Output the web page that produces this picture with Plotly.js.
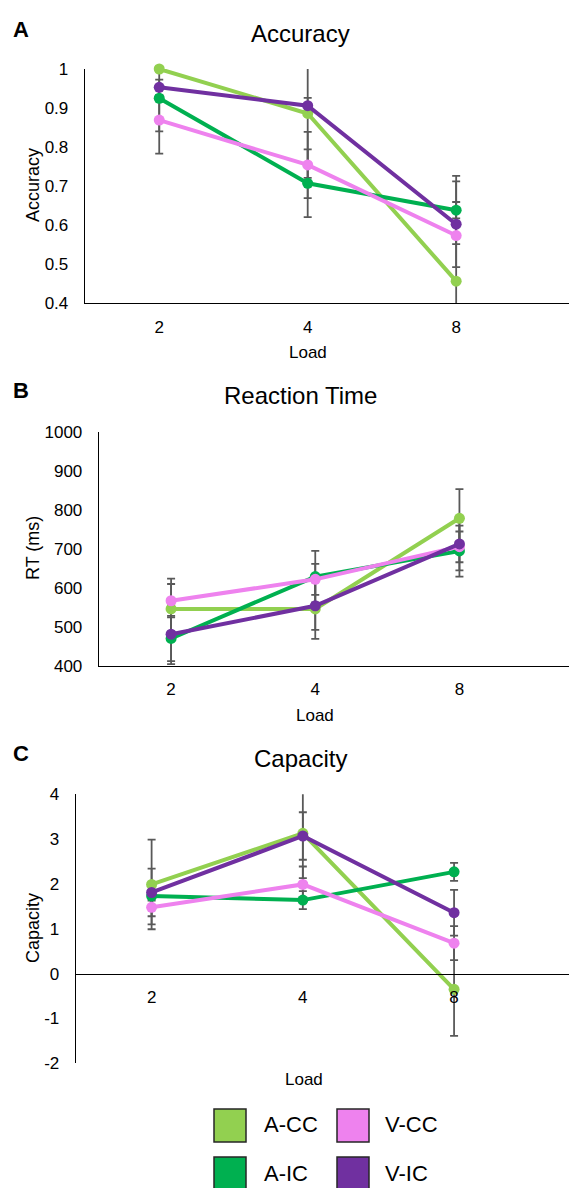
<!DOCTYPE html>
<html>
<head>
<meta charset="utf-8">
<script src="https://cdn.plot.ly/plotly-3.0.1.min.js"></script>
<style>html,body{margin:0;padding:0;background:#fff}#chart{width:569px;height:1188px}</style>
</head>
<body>
<div id="chart"></div>
<script>
// ---------- data ----------
const loads = ['2', '4', '8'];
const seriesNames = ['A-CC', 'A-IC', 'V-CC', 'V-IC'];
const seriesColors = ['#92D050', '#00B050', '#EE82EE', '#7030A0'];

// Accuracy
const accACC = [1.0, 0.886, 0.456];
const accAIC = [0.925, 0.707, 0.638];
const accVCC = [0.869, 0.754, 0.573];
const accVIC = [0.953, 0.906, 0.602];
const accErrACC = [0.0, 0.165, 0.27];
const accErrAIC = [0.085, 0.087, 0.021];
const accErrVCC = [0.086, 0.085, 0.022];
const accErrVIC = [0.02, 0.02, 0.11];

// Reaction time (ms)
const rtACC = [546, 546, 779];
const rtAIC = [470, 629, 695];
const rtVCC = [567, 622, 706];
const rtVIC = [481, 554, 713];
const rtErrACC = [78, 77, 75];
const rtErrAIC = [58, 66, 50];
const rtErrVCC = [43, 40, 77];
const rtErrVIC = [77, 62, 47];

// Capacity
const capACC = [1.99, 3.13, -0.35];
const capAIC = [1.73, 1.64, 2.27];
const capVCC = [1.48, 1.99, 0.68];
const capVIC = [1.81, 3.07, 1.36];
const capErrACC = [1.0, 1.0, 1.04];
const capErrAIC = [0.1, 0.2, 0.2];
const capErrVCC = [0.38, 0.4, 0.38];
const capErrVIC = [0.53, 0.53, 0.51];

// tick labels
const accTicks = [0.4, 0.5, 0.6, 0.7, 0.8, 0.9, 1];
const accTickText = ['0.4', '0.5', '0.6', '0.7', '0.8', '0.9', '1'];
const rtTicks = [400, 500, 600, 700, 800, 900, 1000];
const rtTickText = ['400', '500', '600', '700', '800', '900', '1000'];
const capTicks = [-2, -1, 0, 1, 2, 3, 4];
const capTickText = ['-2', '-1', '0', '1', '2', '3', '4'];

// ---------- layout helpers ----------
const W = 569, H = 1188;
const FONT = 'Liberation Sans, Arial, sans-serif';
const px2y = p => 1 - p / H;
const px2x = p => p / W;

const panels = [
  {ax: '', vals: [accACC, accAIC, accVCC, accVIC], errs: [accErrACC, accErrAIC, accErrVCC, accErrVIC],
   range: [0.4, 1], ticks: accTicks, tickText: accTickText, left: 85, top: 69, bottom: 303,
   title: 'Accuracy', ytitle: 'Accuracy', letter: 'A', titleY: 33, letterY: 29, ytitleY: 185, loadY: 352},
  {ax: '2', vals: [rtACC, rtAIC, rtVCC, rtVIC], errs: [rtErrACC, rtErrAIC, rtErrVCC, rtErrVIC],
   range: [400, 1000], ticks: rtTicks, tickText: rtTickText, left: 99, top: 432.3, bottom: 665.7,
   title: 'Reaction Time', ytitle: 'RT (ms)', letter: 'B', titleY: 395, letterY: 390, ytitleY: 548, loadY: 715},
  {ax: '3', vals: [capACC, capAIC, capVCC, capVIC], errs: [capErrACC, capErrAIC, capErrVCC, capErrVIC],
   range: [-2, 4], ticks: capTicks, tickText: capTickText, left: 76, top: 794.3, bottom: 1063.3,
   title: 'Capacity', ytitle: 'Capacity', letter: 'C', titleY: 759, letterY: 753, ytitleY: 928, loadY: 1079}
];

const data = [];
const layout = {
  width: W, height: H,
  margin: {l: 0, r: 0, t: 0, b: 0},
  paper_bgcolor: '#fff', plot_bgcolor: 'rgba(0,0,0,0)',
  showlegend: false,
  font: {family: FONT, color: '#000', size: 17},
  annotations: [], shapes: []
};

panels.forEach((p, pi) => {
  const xa = 'x' + p.ax, ya = 'y' + p.ax;
  // error bars (behind), clipped to plot area
  p.vals.forEach((v, si) => {
    data.push({
      type: 'scatter', mode: 'markers', x: loads, y: v, xaxis: xa, yaxis: ya,
      marker: {size: 1, color: 'rgba(0,0,0,0)'}, cliponaxis: true, hoverinfo: 'skip', showlegend: false,
      error_y: {type: 'data', array: p.errs[si], symmetric: true, color: '#595959', thickness: 1.8, width: 4}
    });
  });
  // series lines + markers
  p.vals.forEach((v, si) => {
    data.push({
      type: 'scatter', mode: 'lines+markers', x: loads, y: v, xaxis: xa, yaxis: ya,
      name: seriesNames[si], cliponaxis: false,
      line: {color: seriesColors[si], width: 4},
      marker: {color: seriesColors[si], size: 11}
    });
  });
  const yDom = [px2y(p.bottom), px2y(p.top)];
  const xDom = [px2x(p.left), 1];
  const isCap = pi === 2;
  layout['yaxis' + p.ax] = {
    domain: yDom, range: p.range, anchor: xa, tickmode: 'array', tickvals: p.ticks, ticktext: p.tickText,
    showgrid: false, zeroline: false, showline: true, linecolor: '#000', linewidth: 1.3,
    ticks: '', ticklabelstandoff: 12, tickfont: {size: 17, color: '#000', family: FONT}
  };
  const xAxis = {
    domain: xDom, type: 'category', range: [-0.5, 2.76], anchor: ya,
    showgrid: false, zeroline: false, showline: true, linecolor: '#000', linewidth: 1.3,
    ticks: '', ticklabelstandoff: 8, tickfont: {size: 17, color: '#000', family: FONT}
  };
  if (isCap) {
    xAxis.anchor = 'free';
    xAxis.position = yDom[0] + (0 - p.range[0]) / (p.range[1] - p.range[0]) * (yDom[1] - yDom[0]);
  }
  layout['xaxis' + p.ax] = xAxis;

  // panel title
  layout.annotations.push({text: p.title, xref: 'paper', yref: 'paper', x: px2x(300), y: px2y(p.titleY),
    xanchor: 'center', yanchor: 'middle', showarrow: false, font: {size: 24, color: '#000', family: FONT}});
  // panel letter
  layout.annotations.push({text: '<b>' + p.letter + '</b>', xref: 'paper', yref: 'paper', x: px2x(11), y: px2y(p.letterY),
    xanchor: 'left', yanchor: 'middle', showarrow: false, font: {size: 22, color: '#000', family: FONT}});
  // y title
  layout.annotations.push({text: p.ytitle, xref: 'paper', yref: 'paper', x: px2x(33), y: px2y(p.ytitleY),
    xanchor: 'center', yanchor: 'middle', textangle: -90, showarrow: false, font: {size: 18, color: '#000', family: FONT}});
  // x title
  layout.annotations.push({text: 'Load', xref: 'paper', yref: 'paper', x: px2x(p.left + (531 - p.left) / 2), y: px2y(p.loadY),
    xanchor: 'center', yanchor: 'middle', showarrow: false, font: {size: 17, color: '#000', family: FONT}});
});

// legend (swatches + labels)
const legendPos = [
  {sx: 214, sy: 1109, tx: 262, ty: 1124},
  {sx: 214, sy: 1157, tx: 262, ty: 1173},
  {sx: 337, sy: 1109, tx: 383, ty: 1124},
  {sx: 337, sy: 1157, tx: 383, ty: 1173}
];
seriesNames.forEach((n, i) => {
  const lp = legendPos[i];
  layout.shapes.push({type: 'rect', xref: 'paper', yref: 'paper',
    x0: px2x(lp.sx), x1: px2x(lp.sx + 32), y0: px2y(lp.sy + 33), y1: px2y(lp.sy),
    fillcolor: seriesColors[i], line: {color: '#262626', width: 1.5}});
  layout.annotations.push({text: n, xref: 'paper', yref: 'paper', x: px2x(lp.tx), y: px2y(lp.ty),
    xanchor: 'left', yanchor: 'middle', showarrow: false, font: {size: 22, color: '#000', family: FONT}});
});

Plotly.newPlot('chart', data, layout, {staticPlot: true, displayModeBar: false});
</script>
</body>
</html>
